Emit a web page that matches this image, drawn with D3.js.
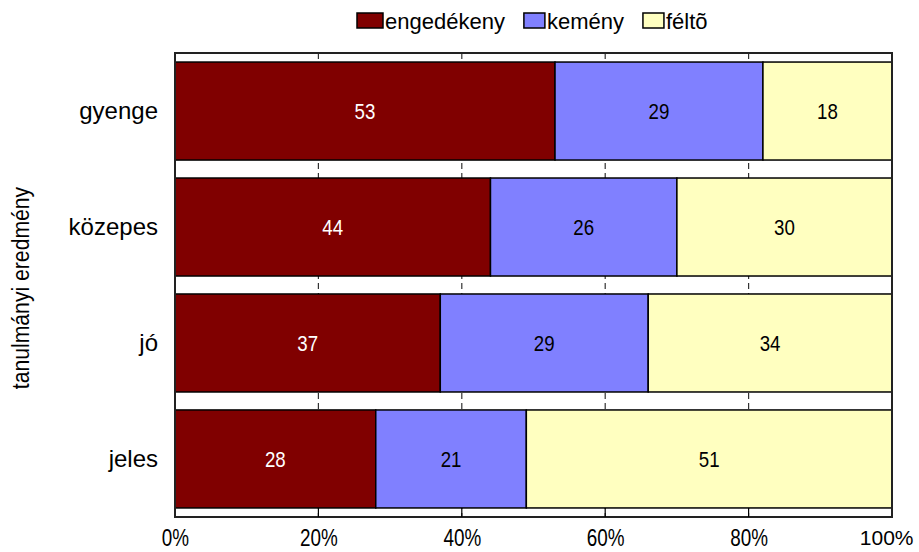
<!DOCTYPE html>
<html><head><meta charset="utf-8">
<script src="https://cdn.jsdelivr.net/npm/d3@7"></script>
<style>body{margin:0;background:#fff}svg{display:block}text{font-family:"Liberation Sans",Arial,sans-serif}</style>
</head><body><svg id="c" width="919" height="552"></svg>
<script>
const categories = ["gyenge","közepes","jó","jeles"];
const seriesNames = ["engedékeny","kemény","féltõ"];
const engedekeny = [53,44,37,28];
const kemeny = [29,26,29,21];
const felto = [18,30,34,51];
const tickValues = [0,20,40,60,80,100];
const tickLabels = ["0%","20%","40%","60%","80%","100%"];
const yTitle = "tanulmányi eredmény";

const colors = ["#800000","#8080FF","#FFFFC0"];
const textColors = ["#fff","#000","#000"];
const series = [engedekeny, kemeny, felto];

function squeeze(sel, f){
  sel.each(function(){const w=this.getComputedTextLength();d3.select(this).attr("textLength",w*f).attr("lengthAdjust","spacingAndGlyphs");});
}

const svg = d3.select("#c");
const L=175, R=892, T=53, B=517;
const x = d3.scaleLinear().domain([0,100]).range([L,R]);
const y = d3.scaleBand().domain(categories).range([T,B]).paddingInner(0.155).paddingOuter(0.078);

// gridlines (behind bars)
svg.append("g").selectAll("line").data(tickValues.slice(1,-1)).join("line")
  .attr("x1",d=>x(d)).attr("x2",d=>x(d)).attr("y1",T).attr("y2",B)
  .attr("stroke","#333").attr("stroke-width",1.2).attr("stroke-dasharray","6,4");

const rows = categories.map((c,i)=>{
  let acc=0;
  return series.map((s,k)=>{const v=s[i];const r={cat:c,k,v,x0:acc,x1:acc+v};acc+=v;return r;});
}).flat();

svg.append("g").selectAll("rect").data(rows).join("rect")
  .attr("x",d=>x(d.x0)).attr("width",d=>x(d.x1)-x(d.x0))
  .attr("y",d=>y(d.cat)).attr("height",y.bandwidth())
  .attr("fill",d=>colors[d.k]).attr("stroke","#000").attr("stroke-width",1.5);

svg.append("g").selectAll("text").data(rows).join("text")
  .attr("x",d=>x((d.x0+d.x1)/2)).attr("y",d=>y(d.cat)+y.bandwidth()/2)
  .attr("dy","0.36em").attr("text-anchor","middle").attr("font-size",22)
  .attr("fill",d=>textColors[d.k]).text(d=>d.v).call(squeeze,0.85);

// frame
svg.append("rect").attr("x",L).attr("y",T).attr("width",R-L).attr("height",B-T)
  .attr("fill","none").attr("stroke","#222").attr("stroke-width",2);

// x axis
const xAxis = d3.axisBottom(x).tickValues(tickValues).tickFormat((d,i)=>tickLabels[i]).tickSize(0).tickPadding(13);
const gx = svg.append("g").attr("transform",`translate(0,${B})`).call(xAxis);
gx.select(".domain").remove();
gx.selectAll("text").attr("font-size",23).attr("fill","#000").attr("font-family","Liberation Sans, Arial, sans-serif");
gx.selectAll("text").filter(d=>d!==100).call(squeeze,0.82);
gx.selectAll("text").filter(d=>d===100).attr("font-size",21).attr("text-anchor","end").attr("x",21);
// inner ticks at bottom
svg.append("g").selectAll("line").data(tickValues.slice(1,-1)).join("line")
  .attr("x1",d=>x(d)).attr("x2",d=>x(d)).attr("y1",B-9).attr("y2",B)
  .attr("stroke","#000").attr("stroke-width",1.2);

// y axis labels
const yAxis = d3.axisLeft(y).tickSize(0).tickPadding(17);
const gy = svg.append("g").attr("transform",`translate(${L},0)`).call(yAxis);
gy.select(".domain").remove();
gy.selectAll("text").attr("font-size",24).attr("fill","#000").attr("font-family","Liberation Sans, Arial, sans-serif");

svg.append("text").attr("transform",`translate(21,288) rotate(-90)`)
  .attr("text-anchor","middle").attr("dy","0.35em").attr("font-size",23)
  .text(yTitle).call(squeeze,0.92);

// legend
const lg = svg.append("g");
let lx = 357;
seriesNames.forEach((n,k)=>{
  const bw = k===0?26:21;
  lg.append("rect").attr("x",lx).attr("y",13).attr("width",bw).attr("height",15)
    .attr("fill",colors[k]).attr("stroke","#000").attr("stroke-width",1.5);
  const t = lg.append("text").attr("x",lx+bw+2).attr("y",21).attr("dy","0.36em")
    .attr("font-size",22).text(n);
  lx += bw + 2 + t.node().getComputedTextLength() + 19;
});
</script></body></html>
